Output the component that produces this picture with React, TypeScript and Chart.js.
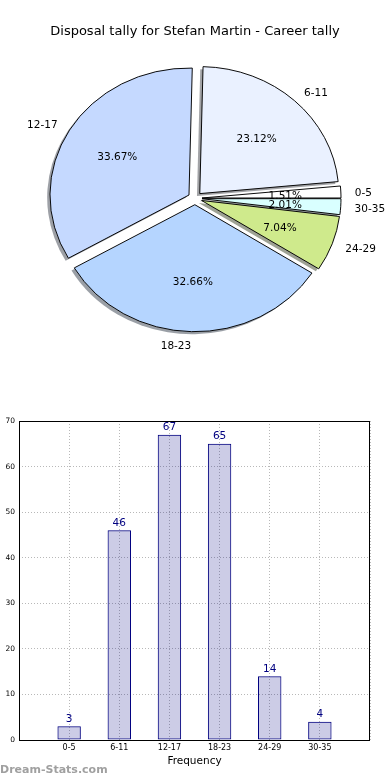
import React, { useEffect, useRef } from 'react';
import { Chart, registerables } from 'chart.js';

Chart.register(...registerables);

// ---------- data ----------
const categories = ['0-5', '6-11', '12-17', '18-23', '24-29', '30-35'];
const disposals = [3, 46, 67, 65, 14, 4];
const yAxisMin = 0;
const yAxisMax = 70;
const yAxisStep = 10;
const chartTitle = 'Disposal tally for Stefan Martin - Career tally';
const xAxisTitle = 'Frequency';
const watermark = 'Dream-Stats.com';

// ---------- styles ----------
const sliceColors = ['#ffffff', '#eaf1ff', '#c5d9ff', '#b5d5ff', '#cfea8c', '#d9ffff'];
const FONT = "'DejaVu Sans', sans-serif";
const PIE_RX = 139; // horizontal radius
const PIE_SY = 127 / 139; // vertical squash (ellipse)
const EXPLODE = 7;
const SHADOW_DX = -2.8;
const SHADOW_DY = 2.5;
const TEXT_DY = 1.5;

function hexToRgb(h: string) {
  const n = parseInt(h.slice(1), 16);
  return [(n >> 16) & 255, (n >> 8) & 255, n & 255];
}

const PieChart = () => {
  const ref = useRef<HTMLCanvasElement>(null);
  useEffect(() => {
    if (!ref.current) return;
    const n = categories.length;
    // drawn clockwise from east, so reverse to get matplotlib's counter-clockwise order
    const order = categories.map((_, i) => n - 1 - i);
    const total = disposals.reduce((a, b) => a + b, 0);

    const piePlugin = {
      id: 'mplPie',
      beforeDatasetDraw(chart: any, args: any) {
        const ctx = chart.ctx as CanvasRenderingContext2D;
        const arcs = args.meta.data;
        if (!arcs.length) return false;
        const cx = arcs[0].x;
        const cy = arcs[0].y;
        ctx.save();
        ctx.translate(cx, cy);
        ctx.scale(1, PIE_SY);
        ctx.translate(-cx, -cy);
        // shadows
        arcs.forEach((arc: any, i: number) => {
          const catIdx = order[i];
          const mid = (arc.startAngle + arc.endAngle) / 2;
          const ox = arc.x + Math.cos(mid) * EXPLODE + SHADOW_DX;
          const oy = arc.y + Math.sin(mid) * EXPLODE + SHADOW_DY / PIE_SY;
          const [r, g, b] = hexToRgb(sliceColors[catIdx]);
          const col = `rgba(${Math.round(r * 0.3)},${Math.round(g * 0.3)},${Math.round(b * 0.3)},0.5)`;
          ctx.beginPath();
          ctx.moveTo(ox, oy);
          ctx.arc(ox, oy, arc.outerRadius, arc.startAngle, arc.endAngle);
          ctx.closePath();
          ctx.fillStyle = col;
          ctx.fill();
        });
        // wedges
        arcs.forEach((arc: any) => {
          const mid = (arc.startAngle + arc.endAngle) / 2;
          ctx.save();
          ctx.translate(Math.cos(mid) * EXPLODE, Math.sin(mid) * EXPLODE);
          arc.draw(ctx);
          ctx.restore();
        });
        ctx.restore();
        // labels
        ctx.save();
        ctx.fillStyle = '#000';
        ctx.font = `10.5px ${FONT}`;
        ctx.textBaseline = 'middle';
        arcs.forEach((arc: any, i: number) => {
          const catIdx = order[i];
          const mid = (arc.startAngle + arc.endAngle) / 2;
          const c = Math.cos(mid);
          const s = Math.sin(mid);
          const ex = arc.x + c * EXPLODE;
          const ey = arc.y + s * EXPLODE * PIE_SY;
          const R = arc.outerRadius;
          const lx = ex + 1.1 * R * c;
          const ly = ey + 1.1 * R * s * PIE_SY + TEXT_DY;
          ctx.textAlign = c > 0 ? 'left' : 'right';
          ctx.fillText(categories[catIdx], lx, ly);
          const px = ex + 0.6 * R * c;
          const py = ey + 0.6 * R * s * PIE_SY + TEXT_DY;
          ctx.textAlign = 'center';
          ctx.fillText(((disposals[catIdx] / total) * 100).toFixed(2) + '%', px, py);
        });
        ctx.restore();
        return false;
      },
    };

    const chart = new Chart(ref.current, {
      type: 'pie',
      data: {
        labels: order.map((i) => categories[i]),
        datasets: [
          {
            data: order.map((i) => disposals[i]),
            backgroundColor: order.map((i) => sliceColors[i]),
            borderColor: '#000',
            borderWidth: 1,
          },
        ],
      },
      options: {
        responsive: false,
        animation: false,
        events: [],
        rotation: 90,
        radius: PIE_RX,
        layout: { padding: { bottom: 11 } },
        plugins: {
          legend: { display: false },
          tooltip: { enabled: false },
          title: {
            display: true,
            text: chartTitle,
            color: '#000',
            font: { family: FONT, size: 13, weight: 'normal' },
            padding: { top: 24, bottom: 8 },
          },
        },
      } as any,
      plugins: [piePlugin],
    });
    return () => chart.destroy();
  }, []);
  return (
    <canvas
      ref={ref}
      width={390}
      height={360}
      style={{ position: 'absolute', left: 0, top: 0, width: 390, height: 360 }}
    />
  );
};

const BarChart = () => {
  const ref = useRef<HTMLCanvasElement>(null);
  useEffect(() => {
    if (!ref.current) return;
    const labels = ['', ...categories, ''];
    const values = [null, ...disposals, null];

    const framePlugin = {
      id: 'frameAndLabels',
      afterDatasetsDraw(chart: any) {
        const ctx = chart.ctx as CanvasRenderingContext2D;
        const meta = chart.getDatasetMeta(0);
        ctx.save();
        ctx.fillStyle = '#000080';
        ctx.font = `10.5px ${FONT}`;
        ctx.textAlign = 'center';
        ctx.textBaseline = 'bottom';
        meta.data.forEach((bar: any, i: number) => {
          const v = values[i];
          if (v === null || v === undefined) return;
          ctx.fillText(String(v), bar.x, bar.y - 2);
        });
        ctx.restore();
      },
      afterDraw(chart: any) {
        const ctx = chart.ctx as CanvasRenderingContext2D;
        const a = chart.chartArea;
        ctx.save();
        ctx.strokeStyle = '#000';
        ctx.lineWidth = 1;
        ctx.strokeRect(
          Math.round(a.left) + 0.5,
          Math.round(a.top) + 0.5,
          Math.round(a.right) - Math.round(a.left) - 1,
          Math.round(a.bottom) - Math.round(a.top)
        );
        ctx.restore();
      },
    };

    const gridColor = '#b8b8b8';
    const chart = new Chart(ref.current, {
      type: 'bar',
      data: {
        labels,
        datasets: [
          {
            data: values as any,
            backgroundColor: 'rgba(0,0,128,0.2)',
            borderColor: '#000080',
            borderWidth: 1,
            borderSkipped: false,
            barPercentage: 0.467,
            categoryPercentage: 1,
          },
        ],
      },
      options: {
        responsive: false,
        animation: false,
        events: [],
        layout: { padding: { top: 21, right: 20, left: 0, bottom: 0 } },
        plugins: { legend: { display: false }, tooltip: { enabled: false } },
        scales: {
          x: {
            type: 'category',
            offset: false,
            grid: { color: gridColor, drawTicks: false, offset: false, lineWidth: 1 },
            border: { display: false, dash: [1, 2] },
            ticks: {
              color: '#000',
              font: { family: FONT, size: 8 },
              padding: 3,
              autoSkip: false,
              maxRotation: 0,
            },
            title: {
              display: true,
              text: xAxisTitle,
              color: '#000',
              font: { family: FONT, size: 10.5 },
              padding: { top: 0, bottom: 12 },
            },
            afterFit: (s: any) => {
              s.height = 40;
            },
          },
          y: {
            min: yAxisMin,
            max: yAxisMax,
            grid: { color: gridColor, drawTicks: false, lineWidth: 1 },
            border: { display: false, dash: [1, 2] },
            ticks: {
              stepSize: yAxisStep,
              color: '#000',
              font: { family: FONT, size: 7.5 },
              padding: 4,
            },
            afterFit: (s: any) => {
              s.width = 19;
            },
          },
        },
      } as any,
      plugins: [framePlugin],
    });
    return () => chart.destroy();
  }, []);
  return (
    <canvas
      ref={ref}
      width={390}
      height={380}
      style={{ position: 'absolute', left: 0, top: 400, width: 390, height: 380 }}
    />
  );
};

export default function App() {
  return (
    <div
      style={{
        position: 'absolute',
        left: 0,
        top: 0,
        width: 390,
        height: 780,
        background: '#fff',
        overflow: 'hidden',
      }}
    >
      <PieChart />
      <BarChart />
      <div
        style={{
          position: 'absolute',
          left: 0,
          top: 763,
          fontFamily: FONT,
          fontWeight: 'bold',
          fontSize: 11,
          lineHeight: '14px',
          color: '#a0a0a0',
          whiteSpace: 'nowrap',
        }}
      >
        {watermark}
      </div>
    </div>
  );
}
